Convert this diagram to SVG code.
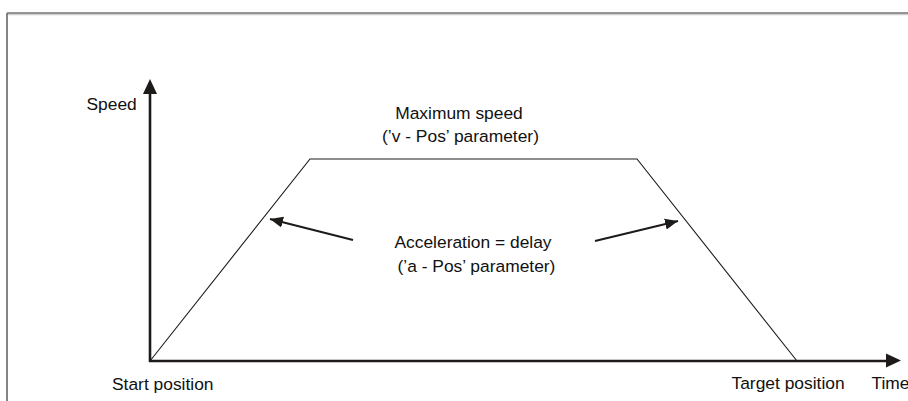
<svg xmlns="http://www.w3.org/2000/svg" width="908" height="401" viewBox="0 0 908 401">
<style>
text{font-family:"Liberation Sans",Arial,sans-serif;font-size:17.4px;fill:#111}
.axis{stroke:#1e1a1a;stroke-width:2.6;fill:none}
.prof{stroke:#1e1a1a;stroke-width:1.1;fill:none}
.ann{stroke:#1e1a1a;stroke-width:2;fill:none}
</style>
<defs>
<marker id="ah2" markerUnits="userSpaceOnUse" markerWidth="14" markerHeight="14" refX="13" refY="7" orient="auto">
<path d="M0,1.5 L13,7 L0,12.5 Z" fill="#1e1a1a"/>
</marker>
</defs>
<g id="frame">
<line x1="7" y1="14.5" x2="908" y2="14.5" stroke="#d0d0d0" stroke-width="1.5"/>
<line x1="7" y1="13" x2="908" y2="13" stroke="#333" stroke-width="1.2"/>
<line x1="7" y1="13" x2="7" y2="401" stroke="#777" stroke-width="1.8"/>
</g>
<g id="connectors">
<line class="axis" x1="150" y1="362" x2="150" y2="94"/>
<path d="M143,94 L150,79 L157,94 Z" fill="#1e1a1a"/>
<line class="axis" x1="149" y1="361" x2="887" y2="361"/>
<path d="M886,353.5 L901,360.5 L886,367.5 Z" fill="#1e1a1a"/>
<polyline class="prof" points="150,361 310,159 637,159 797,361"/>
<line class="ann" x1="353" y1="240" x2="270" y2="219" marker-end="url(#ah2)"/>
<line class="ann" x1="595" y1="241" x2="678" y2="221" marker-end="url(#ah2)"/>
</g>
<g id="labels">
<text x="86.5" y="110">Speed</text>
<text x="459" y="118.5" text-anchor="middle">Maximum speed</text>
<text x="460.5" y="142" text-anchor="middle">(’v - Pos’ parameter)</text>
<text x="473" y="247.5" text-anchor="middle">Acceleration = delay</text>
<text x="476.5" y="271.5" text-anchor="middle">(’a - Pos’ parameter)</text>
<text x="112" y="390">Start position</text>
<text x="731.5" y="388.5">Target position</text>
<text x="871.5" y="388.5">Time</text>
</g>
</svg>
